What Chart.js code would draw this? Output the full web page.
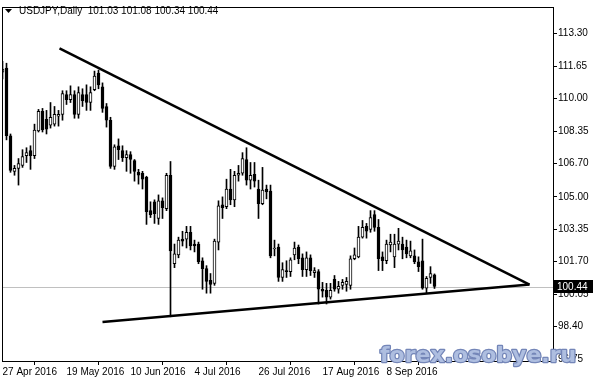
<!DOCTYPE html>
<html>
<head>
<meta charset="utf-8">
<script src="https://cdn.jsdelivr.net/npm/chart.js@4.4.1/dist/chart.umd.min.js"></script>
<style>
  html, body { margin: 0; padding: 0; background: #fff; }
</style>
</head>
<body>
<canvas id="chart" width="593" height="383"></canvas>
<script>
// USDJPY daily candles, 27 Apr 2016 .. 23 Sep 2016
const opens = [
  111.35, 111.55, 108.10, 106.30, 106.45, 106.60, 107.10, 107.35, 107.10, 108.35,
  109.35, 108.95, 108.65, 108.70, 109.10, 109.20, 110.20, 109.95, 110.20, 109.20,
  110.20, 110.20, 109.80, 110.45, 111.30, 110.60, 109.60, 108.90, 106.55, 107.60,
  107.35, 107.00, 107.15, 106.85, 106.25, 106.20, 106.00, 104.30, 104.75, 103.90,
  104.80, 104.40, 106.10, 101.60, 102.05, 102.85, 102.85, 103.20, 102.60, 102.60,
  101.75, 101.35, 100.75, 100.60, 102.70, 104.60, 104.50, 105.40, 104.85, 106.10,
  106.20, 106.90, 105.85, 106.15, 105.40, 104.65, 105.40, 105.30, 102.35, 102.45,
  100.90, 101.25, 101.20, 102.05, 102.45, 101.90, 101.30, 101.90, 101.15, 101.20,
  100.30, 100.25, 99.90, 100.80, 100.30, 100.50, 100.55, 100.50, 101.85, 101.95,
  102.95, 103.50, 103.35, 104.10, 103.45, 101.95, 101.75, 102.55, 101.95, 102.60,
  102.60, 102.45, 102.00, 102.00, 101.70, 101.75, 100.35, 100.90, 101.03
];
const highs = [
  111.90, 111.80, 108.20, 106.60, 106.95, 107.40, 107.50, 107.60, 108.70, 109.45,
  109.50, 109.40, 109.80, 109.60, 109.40, 110.40, 110.40, 110.65, 110.40, 110.60,
  110.50, 110.70, 110.60, 111.40, 111.45, 110.80, 109.75, 109.05, 107.65, 107.95,
  107.60, 107.35, 107.30, 106.90, 106.40, 106.30, 106.05, 104.75, 104.85, 105.10,
  104.95, 106.20, 106.80, 102.60, 102.95, 103.25, 103.50, 103.50, 102.80, 102.70,
  101.90, 101.50, 101.10, 102.85, 104.80, 105.00, 105.90, 106.40, 106.30, 106.60,
  107.25, 107.50, 106.75, 106.75, 105.85, 106.50, 105.60, 105.60, 102.80, 102.60,
  101.65, 101.75, 101.90, 102.70, 102.55, 102.10, 102.20, 102.05, 101.40, 101.30,
  100.65, 100.60, 100.60, 101.00, 100.70, 100.80, 100.90, 102.00, 102.40, 103.50,
  103.80, 103.65, 104.30, 104.30, 103.85, 102.20, 102.80, 103.10, 103.10, 103.40,
  102.95, 102.80, 102.75, 102.30, 101.95, 102.85, 100.95, 101.45, 101.08
];
const lows = [
  111.00, 107.90, 106.25, 106.10, 105.60, 106.50, 106.75, 106.40, 106.95, 108.30,
  108.30, 108.20, 108.50, 108.60, 108.60, 108.90, 109.70, 109.80, 109.00, 109.00,
  109.60, 109.40, 109.40, 110.40, 110.50, 109.30, 108.55, 106.45, 106.40, 106.90,
  106.80, 106.30, 106.20, 105.80, 105.65, 105.40, 103.60, 103.95, 103.65, 103.60,
  103.90, 104.30, 98.90, 101.40, 101.90, 102.50, 102.40, 102.30, 102.20, 101.60,
  100.30, 100.10, 100.10, 100.50, 102.30, 103.90, 104.40, 104.60, 104.50, 105.80,
  106.10, 105.60, 105.40, 105.50, 103.90, 104.60, 104.90, 101.90, 102.00, 100.70,
  100.70, 100.90, 100.95, 101.80, 101.60, 100.95, 100.95, 101.00, 100.90, 99.55,
  99.90, 99.55, 99.80, 100.20, 100.10, 100.30, 100.20, 100.30, 101.80, 101.90,
  102.90, 102.90, 103.20, 103.25, 101.25, 101.25, 101.60, 102.20, 101.40, 102.30,
  101.85, 101.90, 101.90, 101.60, 101.20, 100.30, 100.10, 100.60, 100.34
];
const closes = [
  111.50, 108.12, 106.35, 106.45, 106.70, 107.05, 107.25, 107.10, 108.40, 109.35,
  108.40, 108.45, 109.05, 109.20, 109.20, 110.25, 109.95, 110.20, 109.20, 110.30,
  109.90, 109.80, 110.30, 111.15, 110.70, 109.50, 108.90, 106.55, 107.55, 107.40,
  107.00, 107.15, 106.90, 106.30, 106.10, 105.90, 104.25, 104.10, 104.15, 104.80,
  104.45, 106.10, 102.25, 102.10, 102.80, 102.75, 103.20, 102.50, 102.50, 101.70,
  101.35, 100.70, 100.55, 102.75, 104.55, 104.45, 105.40, 104.85, 106.10, 106.20,
  106.95, 105.85, 106.10, 105.80, 104.65, 105.35, 105.25, 102.00, 102.40, 100.90,
  101.30, 101.20, 101.80, 102.40, 101.85, 101.30, 101.90, 101.25, 101.25, 100.30,
  100.20, 99.90, 100.25, 100.30, 100.45, 100.65, 100.70, 101.85, 102.05, 102.95,
  103.45, 103.25, 103.95, 103.45, 101.85, 101.75, 102.60, 102.70, 102.60, 102.75,
  102.30, 102.10, 102.25, 101.70, 101.45, 100.35, 100.85, 101.10, 100.44
];

const tickLabels = ['27 Apr 2016', '19 May 2016', '10 Jun 2016', '4 Jul 2016',
                    '26 Jul 2016', '17 Aug 2016', '8 Sep 2016'];
const tickEvery = 16;
const priceTicks = [96.75, 98.40, 100.05, 101.70, 103.35, 105.00, 106.70,
                    108.35, 110.00, 111.65, 113.30];

// triangle trend lines, [bar index, price]
const upperLine = [[14.25, 112.55], [131.75, 100.54]];
const lowerLine = [[25, 98.63], [131.75, 100.54]];
const lastPrice = 100.44;
const title = 'USDJPY,Daily  101.03 101.08 100.34 100.44';

const wicks = opens.map((o, i) => ({ x: i, y: [lows[i], highs[i]] }));
const bodies = opens.map((o, i) => ({ x: i, y: [Math.min(o, closes[i]), Math.max(o, closes[i])] }));
const bodyColors = opens.map((o, i) => closes[i] >= o ? '#ffffff' : '#000000');

const font = { family: "'Liberation Sans', Arial, sans-serif", size: 10 };

const decor = {
  id: 'decor',
  beforeDatasetsDraw(chart) {
    const { ctx, chartArea: a, scales: { y } } = chart;
    const py = Math.round(y.getPixelForValue(lastPrice)) + 0.5;
    ctx.save();
    ctx.strokeStyle = '#c0c0c0';
    ctx.lineWidth = 1;
    ctx.beginPath();
    ctx.moveTo(a.left, py);
    ctx.lineTo(a.right, py);
    ctx.stroke();
    ctx.restore();
  },
  afterDraw(chart) {
    const { ctx, chartArea: a, scales: { y } } = chart;
    ctx.save();
    // frame
    ctx.strokeStyle = '#000';
    ctx.lineWidth = 1;
    ctx.strokeRect(a.left + 0.5, a.top + 0.5, a.right - a.left, a.bottom - a.top);

    // title
    ctx.fillStyle = '#000';
    ctx.beginPath();
    ctx.moveTo(5, 9); ctx.lineTo(12, 9); ctx.lineTo(8.5, 13); ctx.closePath();
    ctx.fill();
    ctx.font = "10px 'Liberation Sans', Arial, sans-serif";
    ctx.textBaseline = 'middle';
    ctx.fillText(title, 19, 11);

    // last price box
    const py = Math.round(y.getPixelForValue(lastPrice));
    ctx.fillRect(a.right + 1, py - 7, 40, 13);
    ctx.fillStyle = '#fff';
    ctx.fillText(lastPrice.toFixed(2), a.right + 4, py);

    // watermark
    const text = 'forex.osobye.ru';
    ctx.font = "bold 24px 'DejaVu Sans', Verdana, sans-serif";
    const w = ctx.measureText(text).width;
    const size = Math.round(24 * 197 / w);
    ctx.font = 'bold ' + size + "px 'DejaVu Sans', Verdana, sans-serif";
    ctx.textBaseline = 'alphabetic';
    ctx.lineJoin = 'round';
    ctx.lineWidth = 2.5;
    ctx.strokeStyle = '#7486b8';
    ctx.strokeText(text, 380, 362);
    ctx.fillStyle = '#aebee0';
    ctx.fillText(text, 380, 362);
    ctx.restore();
  }
};

new Chart(document.getElementById('chart'), {
  type: 'bar',
  data: {
    datasets: [
      {
        type: 'line', data: upperLine.map(p => ({ x: p[0], y: p[1] })),
        borderColor: '#000', borderWidth: 2.5, pointRadius: 0, order: 0
      },
      {
        type: 'line', data: lowerLine.map(p => ({ x: p[0], y: p[1] })),
        borderColor: '#000', borderWidth: 2.5, pointRadius: 0, order: 0
      },
      {
        data: bodies, backgroundColor: bodyColors, borderColor: '#000', borderWidth: 1,
        borderSkipped: false, barThickness: 3, grouped: false, order: 1
      },
      {
        data: wicks, backgroundColor: '#000', borderWidth: 0,
        barThickness: 1, grouped: false, order: 2
      }
    ]
  },
  options: {
    responsive: false,
    devicePixelRatio: 1,
    animation: false,
    events: [],
    layout: { padding: { left: 2, top: 3, right: 0, bottom: 0 } },
    plugins: { legend: { display: false }, tooltip: { enabled: false } },
    scales: {
      x: {
        type: 'linear',
        min: -0.125,
        max: 137.625,
        offset: false,
        border: { display: true, color: '#000' },
        grid: { display: true, drawOnChartArea: false, drawTicks: true, tickLength: 4, color: '#000' },
        afterBuildTicks: s => { s.ticks = tickLabels.map((t, i) => ({ value: i * tickEvery })); },
        afterFit: s => { s.height = 22; },
        ticks: {
          color: '#000', font, padding: 1, align: 'start', maxRotation: 0, autoSkip: false,
          callback: v => tickLabels[Math.round(v / tickEvery)]
        }
      },
      y: {
        position: 'right',
        min: 96.65,
        max: 114.66,
        border: { display: true, color: '#000' },
        grid: { display: true, drawOnChartArea: false, drawTicks: true, tickLength: 4, color: '#000' },
        afterBuildTicks: s => { s.ticks = priceTicks.map(v => ({ value: v })); },
        afterFit: s => { s.width = 40; },
        ticks: { color: '#000', font, padding: 1, callback: v => v.toFixed(2) }
      }
    }
  },
  plugins: [decor]
});
</script>
</body>
</html>
